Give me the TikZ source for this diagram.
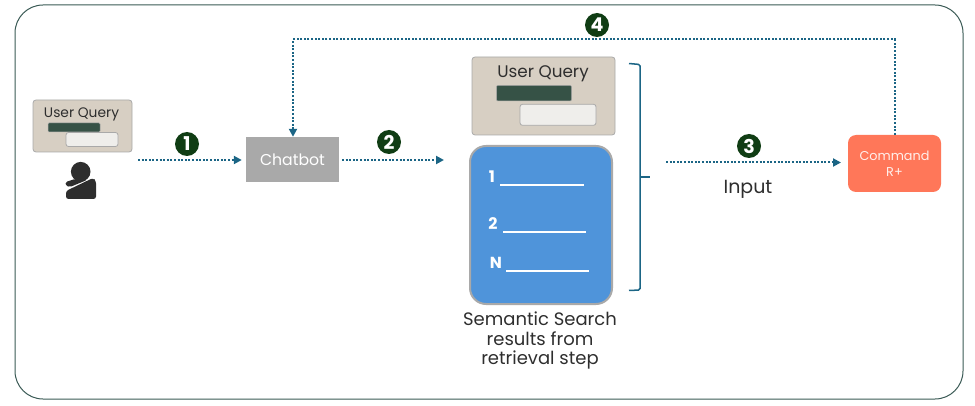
\documentclass[tikz,border=0pt]{standalone}
\usepackage{fontspec}
\setmainfont{Poppins}
\usetikzlibrary{arrows.meta}
\definecolor{flow}{HTML}{1B6585}
\definecolor{numgreen}{HTML}{103D14}
\definecolor{cardfill}{HTML}{D7CFC3}
\definecolor{barfill}{HTML}{365246}
\definecolor{lightfill}{HTML}{EFEEEB}
\definecolor{greyedge}{HTML}{A9A9A9}
\definecolor{bluefill}{HTML}{4F94DA}
\definecolor{coral}{HTML}{FF7759}
\definecolor{inkdark}{HTML}{2E2E2E}
\definecolor{outeredge}{HTML}{3A5A55}
\tikzset{
  flowline/.style={draw=flow,line width=2pt,dash pattern=on 2pt off 1.6pt,-{Triangle[length=8pt,width=8pt,fill=flow]}},
  numdot/.style={circle,fill=numgreen,text=white,minimum size=24pt,inner sep=0pt,font=\fontsize{19}{19}\selectfont\bfseries},
  card/.style={draw=greyedge,fill=cardfill,line width=.8pt,rounded corners=3pt},
  bar/.style={draw=greyedge,fill=barfill,line width=.5pt,rounded corners=1pt},
  lightbox/.style={draw=greyedge,fill=lightfill,line width=.8pt,rounded corners=2.5pt},
  wline/.style={draw=white,line width=1.3pt},
  wnum/.style={text=white,inner sep=0pt,font=\fontsize{16}{16}\selectfont\bfseries},
  labeltext/.style={text=inkdark,inner sep=0pt,align=center},
}
\begin{document}
\begin{tikzpicture}[x=1pt,y=-1pt]
\useasboundingbox (0,0) rectangle (975,406);
% frame
\path[draw=outeredge,line width=1pt,rounded corners=28pt] (15,5) rectangle (963,399);
% small query card
\node[card,minimum width=99pt,minimum height=52pt,inner sep=0pt] (q1) at (82.5,126) {};
\node[labeltext,font=\fontsize{13.8}{13.8}\selectfont] (q1t) at (81.5,114.5) {User Query};
\node[bar,minimum width=52pt,minimum height=9pt,inner sep=0pt] (q1b) at (74,127.5) {};
\node[lightbox,minimum width=52pt,minimum height=14pt,inner sep=0pt] (q1l) at (92,139.5) {};
% person icon
\fill[inkdark] (80.7,171.7) circle (9.8pt);
\fill[inkdark,rounded corners=2.5pt] (66,191) -- (93,178) -- (96,181) -- (96,199) -- (66,199) -- cycle;
\fill[inkdark,rounded corners=1.5pt] (65.7,182) -- (75,179) -- (87,180) -- (70,187) -- (65.7,185.5) -- cycle;
% chatbot
\node[fill=greyedge,minimum width=93pt,minimum height=45pt,inner sep=0pt,text=white,font=\fontsize{15.7}{15.7}\selectfont] (chat) at (292.5,159.5) {Chatbot};
% large query card
\node[card,minimum width=143pt,minimum height=78pt,inner sep=0pt] (q2) at (543.5,96) {};
\node[labeltext,font=\fontsize{16.8}{16.8}\selectfont] (q2t) at (543,73.5) {User Query};
\node[bar,minimum width=75pt,minimum height=15.5pt,inner sep=0pt] (q2b) at (534,93.2) {};
\node[lightbox,minimum width=76pt,minimum height=21pt,inner sep=0pt] (q2l) at (558,114.8) {};
% results
\node[draw=greyedge,fill=bluefill,line width=2pt,rounded corners=16pt,minimum width=142pt,minimum height=158pt,inner sep=0pt] (res) at (541,225) {};
\node[wnum] (n1) at (492,177) {1};
\node[wnum] (n2) at (493,224) {2};
\node[wnum] (nn) at (496,263) {N};
\coordinate (l1a) at (500,185); \coordinate (l1b) at (584,185);
\coordinate (l2a) at (503,232); \coordinate (l2b) at (586,232);
\coordinate (l3a) at (506,271); \coordinate (l3b) at (589,271);
\draw[wline] (l1a) -- (l1b);
\draw[wline] (l2a) -- (l2b);
\draw[wline] (l3a) -- (l3b);
\node[labeltext,font=\fontsize{18}{19.5}\selectfont] (capt) at (540,340.5) {Semantic Search\\results from\\retrieval step};
% brace
\coordinate (ba) at (629,63.5); \coordinate (bb) at (640,64.5); \coordinate (bc) at (640,290);
\coordinate (bd) at (629,290.5); \coordinate (be) at (640,177); \coordinate (bf) at (650,177);
\draw[flow,line width=1.5pt,rounded corners=1.5pt] (ba) -- (bb) -- (bc) -- (bd);
\draw[flow,line width=1.5pt] (be) -- (bf);
% command
\node[fill=coral,rounded corners=8pt,minimum width=93pt,minimum height=57pt,inner sep=0pt,text=white!88!coral,align=center,font=\fontsize{12.8}{16}\selectfont] (cmd) at (894.5,163.5) {Command\\R+};
\node[labeltext,font=\fontsize{19}{19}\selectfont] (inp) at (748,189) {Input};
% connectors
\coordinate (a1) at (138,160); \coordinate (a2) at (342,160); \coordinate (a2e) at (444,160);
\coordinate (a3) at (666,162.5); \coordinate (a3e) at (841,162.5);
\coordinate (t1) at (894.5,39.5); \coordinate (t2) at (293,39.5);
\draw[flowline,shorten >=4pt] (a1) -- (chat.west |- a1);
\draw[flowline] (a2) -- (a2e);
\draw[flowline] (a3) -- (a3e);
\draw[flowline] (cmd.north) -- (t1) -- (t2) -- (t2 |- chat.north);
% numbers
\node[numdot] (c1) at (187,144) {1};
\node[numdot] (c2) at (389,142) {2};
\node[numdot] (c3) at (749,146) {3};
\node[numdot] (c4) at (597,25) {4};
\end{tikzpicture}
\end{document}
